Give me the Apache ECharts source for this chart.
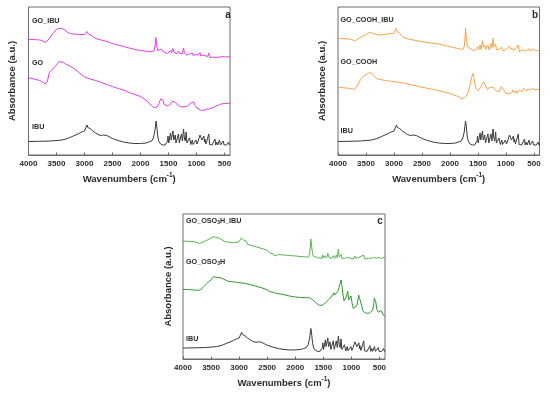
<!DOCTYPE html>
<html><head><meta charset="utf-8">
<script src="https://cdn.jsdelivr.net/npm/echarts@6/dist/echarts.min.js"></script>
<style>html,body{margin:0;padding:0;background:#fff}#c{width:550px;height:398px}</style>
</head><body><div id="c"></div>
<script>
// x tick labels (wavenumbers, cm-1)
const xTicks = [4000, 3500, 3000, 2500, 2000, 1500, 1000, 500];
const panelLetters = ['a', 'b', 'c'];
const labelsA = ['GO_IBU', 'GO', 'IBU'];
const labelsB = ['GO_COOH_IBU', 'GO_COOH', 'IBU'];
const labelsC = ['GO_OSO{s|3}H_IBU', 'GO_OSO{s|3}H', 'IBU'];

// IBU reference spectrum (arbitrary offset units), shared by all panels
const ibu = [[4000,13.5],[3800,13.7],[3600,14],[3400,15],[3300,16.5],[3200,19],[3100,21.5],[3050,23],[3000,24],[2980,25.5],[2955,30],[2940,27.5],[2920,29],[2900,26.5],[2868,27],[2850,24],[2800,22],[2760,20.5],[2730,20.5],[2700,19.5],[2660,20],[2630,20.5],[2600,19.5],[2550,18],[2500,16.5],[2400,14.5],[2300,13],[2200,12],[2100,11.5],[2000,11.5],[1900,12],[1850,13],[1800,14],[1770,17],[1745,23],[1721,34],[1705,27],[1690,18],[1670,13.5],[1640,11],[1600,10],[1560,10],[1530,11],[1515,14],[1507,19],[1495,12],[1475,13],[1462,22],[1450,15],[1435,14],[1419,24],[1405,15],[1395,14],[1379,20],[1365,12],[1340,12],[1321,21],[1305,12],[1290,12.5],[1268,21],[1250,14],[1230,26],[1215,17],[1200,14],[1183,23],[1170,12],[1140,11],[1123,17],[1100,10.5],[1085,11],[1073,15],[1060,10.5],[1040,10],[1008,15],[990,11],[969,14],[955,13],[936,20],[920,18],[900,15],[880,17],[866,19],[855,13],[848,16],[830,11],[800,10.5],[779,21],[765,10.5],[746,12],[720,10],[700,10],[668,16],[655,10],[636,13],[620,10],[600,10.5],[588,15],[570,10],[550,10],[522,14],[505,10],[482,12],[460,10],[440,10.5],[425,13],[410,10],[400,11]];

// Panel a
const goIbu = [[4000,115.7],[3900,115.5],[3800,115],[3750,114],[3700,112.5],[3650,115],[3600,119],[3550,122.5],[3500,125.5],[3450,126.7],[3400,126.5],[3350,125],[3300,122.5],[3250,121.5],[3200,121],[3100,120.5],[3050,120.5],[3000,120.5],[2970,121],[2955,123.5],[2945,121.5],[2930,122.5],[2920,120.5],[2900,120],[2870,119.5],[2850,117.5],[2800,116.5],[2700,115],[2600,113.5],[2500,111.5],[2400,110],[2300,108.5],[2200,107],[2100,105.5],[2000,104.5],[1900,103.8],[1800,103.3],[1760,104],[1740,109],[1725,117.5],[1710,109],[1690,104.5],[1660,104],[1630,106],[1610,104.5],[1580,103],[1550,102],[1520,101.5],[1505,103.5],[1490,101],[1460,104.5],[1445,102],[1420,106.5],[1400,103],[1380,104],[1360,101],[1320,104],[1300,101.5],[1270,103.5],[1250,101.5],[1230,107],[1215,102],[1185,104],[1170,100],[1120,101],[1100,99],[1073,102],[1060,99.5],[1010,100.5],[990,99],[969,100],[936,102.5],[920,99],[880,100],[866,101],[850,99],[800,98.5],[779,102],[765,97.5],[740,98],[700,98],[668,99.5],[650,97.5],[620,98.5],[590,98],[560,99],[520,98.5],[500,97.5],[480,98],[450,97.5],[420,98.5],[400,97.5]];
const go = [[4000,77.3],[3900,76],[3800,74.5],[3750,73],[3700,71],[3680,70],[3660,74],[3640,80],[3620,83],[3600,84.5],[3550,87],[3500,90],[3450,93.5],[3420,94],[3380,92.5],[3340,91],[3300,90],[3250,88.5],[3200,87],[3100,82.5],[3000,78],[2900,76],[2800,74.5],[2700,72.5],[2600,70.5],[2500,68.5],[2400,66.5],[2300,65],[2200,62.5],[2100,60.5],[2000,58.5],[1900,55],[1850,52],[1800,49],[1760,47.5],[1730,47],[1700,48],[1670,51.5],[1640,56],[1620,57.7],[1600,55],[1580,51],[1560,49.5],[1520,49],[1480,50],[1450,52],[1420,54],[1400,53.5],[1370,52],[1330,50],[1290,48.5],[1250,48],[1220,48.5],[1180,48.5],[1140,50],[1100,52],[1070,54],[1050,53],[1020,49.5],[990,47],[960,46],[930,45],[900,45],[870,44.5],[850,45.5],[820,46],[800,45],[780,46],[750,46.5],[700,47.5],[650,49],[600,50],[560,51],[500,51.5],[450,51.5],[420,52],[400,52]];

// Panel b
const goCoohIbu = [[4000,116.7],[3800,116],[3700,114.3],[3650,115.7],[3550,119],[3430,122.7],[3350,121],[3250,120],[3100,121],[3000,121.7],[2960,126.7],[2940,123.3],[2920,125],[2900,121.7],[2870,122.7],[2850,118.3],[2750,116],[2500,113.3],[2200,111],[2000,108.3],[1800,105.7],[1760,106],[1740,110],[1721,126.7],[1700,113.3],[1680,107.7],[1640,106.7],[1600,105],[1560,104.3],[1507,108.3],[1490,105],[1462,110],[1445,105.7],[1419,114.3],[1400,107.7],[1379,110],[1360,105.7],[1321,110],[1300,105],[1268,111.7],[1250,106.7],[1230,116.7],[1215,108.3],[1183,111],[1170,105],[1123,105.7],[1100,104],[1073,107.7],[1050,104.3],[1008,105],[980,104],[936,109],[920,105.7],[880,106.7],[860,104.3],[779,110],[765,103.3],[700,105],[668,106.7],[650,104],[588,106.3],[570,104],[522,106],[505,104],[450,104.3],[400,104.3]];
const goCooh = [[4000,67.7],[3800,66.7],[3700,65.7],[3650,70],[3600,75],[3550,78.3],[3450,82.3],[3400,81.7],[3350,79],[3300,76],[3200,75],[3000,73.3],[2800,71.7],[2600,69],[2400,66.7],[2200,64.3],[2000,61.7],[1850,58.3],[1780,56],[1720,58.3],[1680,62],[1640,70],[1610,78],[1590,81.7],[1570,77],[1540,67],[1500,64.3],[1450,67.7],[1400,73.3],[1370,70],[1330,65.7],[1290,67.7],[1270,66.7],[1230,67.7],[1180,64.3],[1120,63.3],[1080,68.3],[1060,69],[1030,64.3],[1000,61.7],[960,61],[900,62.3],[870,65],[850,61.7],[820,64.3],[800,61.7],[760,65],[720,63.3],[680,66.7],[640,64.3],[600,65.7],[560,65],[520,66.7],[480,65],[440,65.7],[400,65]];

// Panel c
const goOso3hIbu = [[4000,125.7],[3800,124.9],[3700,123.2],[3600,125.7],[3450,130.2],[3350,128.5],[3250,124.9],[3100,123.9],[3000,124.9],[2960,129.1],[2920,126.7],[2870,125.7],[2850,122.2],[2700,119.7],[2500,116],[2450,112.8],[2400,112.5],[2360,110],[2343,109.2],[2330,111.5],[2300,111.5],[2100,110.5],[2000,110],[1800,108.9],[1760,109],[1740,114],[1721,127.8],[1700,116.2],[1680,110],[1600,108.2],[1520,107.5],[1507,111],[1490,108],[1462,110.3],[1440,108],[1419,112.7],[1400,108.5],[1379,110],[1350,107.5],[1321,110.3],[1300,107.5],[1268,111],[1250,108],[1232,117],[1215,109],[1183,111.7],[1170,107.5],[1123,107.5],[1073,108.5],[1050,106.8],[1008,107.5],[970,106.8],[936,110],[920,107.5],[866,108.5],[850,106.8],[779,111],[765,106.8],[700,107.5],[668,108.5],[640,107.5],[600,108.5],[560,107.5],[520,108.5],[480,107.5],[400,108.5]];
const goOso3h = [[4000,75],[3900,74.8],[3800,74.3],[3720,74],[3680,75],[3650,76.5],[3620,78.5],[3580,81],[3540,83],[3500,85],[3480,86.5],[3465,85.8],[3450,88.5],[3440,87],[3425,89],[3410,87.5],[3395,88.3],[3380,86.8],[3360,87.6],[3340,86.2],[3320,86.8],[3300,85.3],[3280,85.9],[3250,84.4],[3200,83.5],[3150,83.2],[3100,82.7],[3050,82.5],[3000,82],[2950,81.8],[2900,81.2],[2800,80],[2700,78.3],[2600,76.7],[2500,74.5],[2450,72.5],[2400,72],[2350,71],[2340,70.2],[2320,70.9],[2200,69.5],[2100,68],[2000,67],[1900,66.5],[1800,66.3],[1750,66.3],[1700,64.5],[1650,62],[1600,59.5],[1560,58],[1520,58.5],[1480,60],[1440,62],[1400,64.5],[1360,67],[1330,69],[1309,71.5],[1295,69],[1280,69.5],[1260,71],[1240,73],[1220,77],[1200,81],[1184,84.8],[1170,80],[1150,70],[1130,63],[1113,62],[1090,67],[1065,73.3],[1045,64],[1030,62],[1006,68],[985,60],[965,55],[952,53.4],[930,55],[900,58],[880,65],[870,69],[855,66],[835,68],[815,58],[800,53],[787,51.6],[760,50.5],[720,50],[680,50],[650,50.5],[620,53],[600,60],[590,66],[578,68],[565,62],[545,54],[520,51],[490,51],[470,53],[460,53.5],[450,51],[430,48],[410,47],[400,46.3]];

const FONT = '"Liberation Sans", Arial, sans-serif';
const TXT = '#2b2b2b';
const grids = [
  {left: 28.5, top: 7, width: 201.5, height: 148},
  {left: 338, top: 7, width: 201.5, height: 148},
  {left: 183, top: 214, width: 202, height: 145}
];
const yRanges = [[0,148],[0,148],[2,154]];
const yNameGap = [11, 10.5, 9.5];

const option = {
  animation: false,
  backgroundColor: '#fff',
  grid: grids.map(g => Object.assign({show: true, borderColor: '#6b6b6b', borderWidth: 1, backgroundColor: 'transparent'}, g)),
  xAxis: grids.map((g, i) => ({
    type: 'value', gridIndex: i, min: 400, max: 4000, inverse: true,
    name: 'Wavenumbers (cm{sup|-1})', nameLocation: 'middle', nameGap: 17,
    nameTextStyle: {fontFamily: FONT, fontWeight: 'bold', fontSize: 9.5, color: TXT,
      rich: {sup: {fontFamily: FONT, fontWeight: 'bold', fontSize: 6.5, color: TXT, padding: [0,0,7,0]}}},
    axisLine: {show: true, lineStyle: {color: '#6b6b6b', width: 1}},
    axisTick: {show: true, length: 2.5, inside: true, lineStyle: {color: '#6b6b6b'}, customValues: xTicks},
    axisLabel: {customValues: xTicks, formatter: v => String(v), fontFamily: FONT, fontWeight: 'bold', fontSize: 8, color: TXT, margin: 5},
    splitLine: {show: false}
  })),
  yAxis: grids.map((g, i) => ({
    type: 'value', gridIndex: i, min: yRanges[i][0], max: yRanges[i][1],
    name: 'Absorbance (a.u.)', nameLocation: 'middle', nameGap: yNameGap[i], nameRotate: 90,
    nameTextStyle: {fontFamily: FONT, fontWeight: 'bold', fontSize: 9.5, color: TXT},
    axisLine: {show: false}, axisTick: {show: false}, axisLabel: {show: false}, splitLine: {show: false}
  })),
  series: [
    {data: goIbu, xAxisIndex: 0, yAxisIndex: 0, color: '#e03fe6'},
    {data: go, xAxisIndex: 0, yAxisIndex: 0, color: '#e03fe6'},
    {data: ibu, xAxisIndex: 0, yAxisIndex: 0, color: '#3a3a3a'},
    {data: goCoohIbu, xAxisIndex: 1, yAxisIndex: 1, color: '#f5a54c'},
    {data: goCooh, xAxisIndex: 1, yAxisIndex: 1, color: '#f5a54c'},
    {data: ibu, xAxisIndex: 1, yAxisIndex: 1, color: '#3a3a3a'},
    {data: goOso3hIbu, xAxisIndex: 2, yAxisIndex: 2, color: '#5db356'},
    {data: goOso3h, xAxisIndex: 2, yAxisIndex: 2, color: '#2f9a2f'},
    {data: ibu, xAxisIndex: 2, yAxisIndex: 2, color: '#3a3a3a'}
  ].map(s => Object.assign({type: 'line', showSymbol: false, symbol: 'none', lineStyle: {width: 1, color: s.color}, silent: true}, s)),
  graphic: []
};

function txt(x, y, text, size, align) {
  return {type: 'text', x: x, y: y, silent: true, style: {text: text, fontFamily: FONT, fontWeight: 'bold', fontSize: size, fill: TXT,
    align: align || 'left', verticalAlign: 'middle',
    rich: {s: {fontFamily: FONT, fontWeight: 'bold', fontSize: 5, fill: TXT, padding: [4,0,0,0]}}}};
}
const labelPos = [
  [[32, 20.7], [32, 63.3], [32, 126.7]],
  [[340.5, 20], [340.5, 62.3], [340.5, 130.7]],
  [[186, 221], [186, 261.7], [186, 339]]
];
const labelSets = [labelsA, labelsB, labelsC];
const letterPos = [[228, 15.5], [535, 15.5], [380, 221]];
labelSets.forEach((set, p) => {
  set.forEach((t, k) => option.graphic.push(txt(labelPos[p][k][0], labelPos[p][k][1], t, 7.2)));
  option.graphic.push(txt(letterPos[p][0], letterPos[p][1], panelLetters[p], 10, 'center'));
});

const chart = echarts.init(document.getElementById('c'), null, {renderer: 'canvas'});
chart.setOption(option);
</script>
</body></html>
